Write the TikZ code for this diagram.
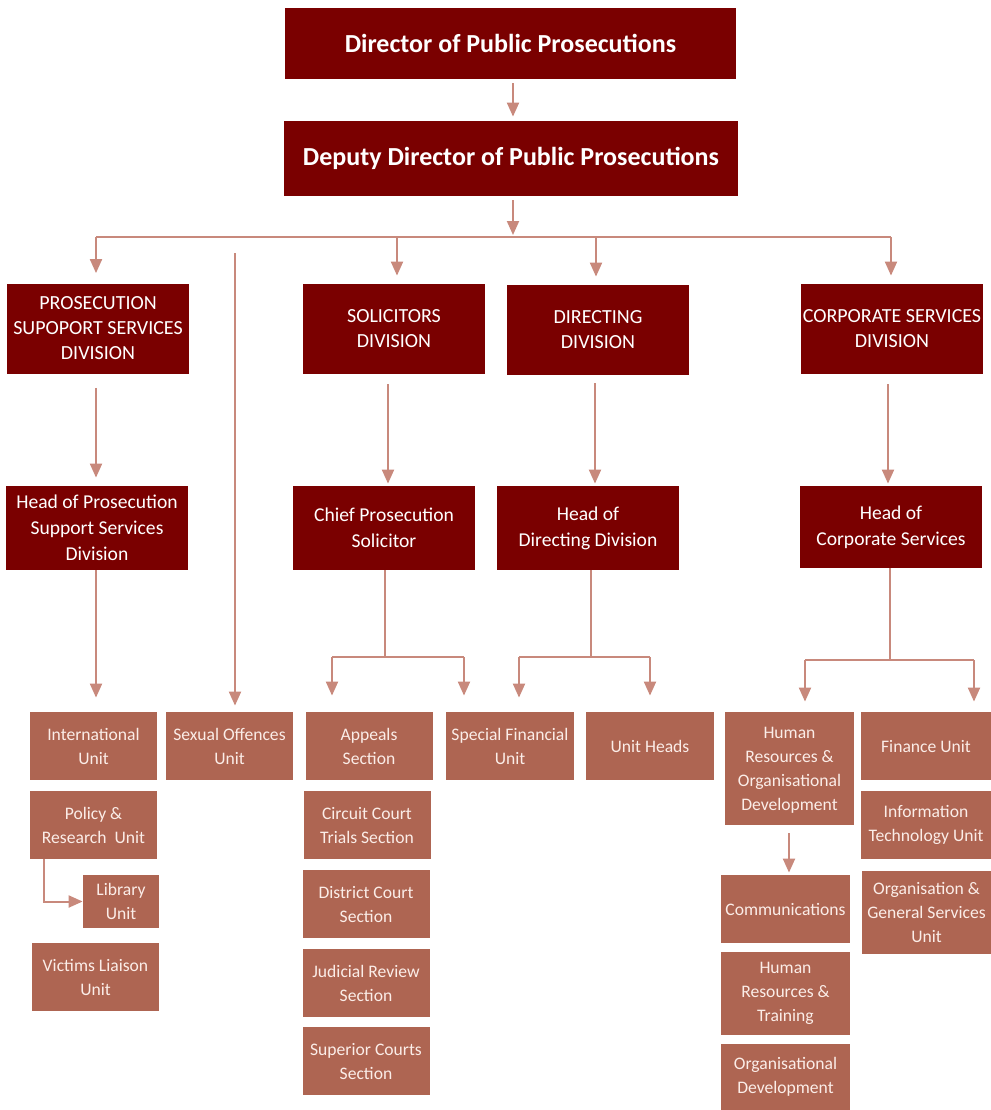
\documentclass[tikz,border=0pt]{standalone}
\usepackage{fontspec}
\setmainfont{Carlito}
\usetikzlibrary{arrows.meta, positioning}

\definecolor{maroonbox}{HTML}{7A0000}
\definecolor{unitbox}{HTML}{AE6552}
\definecolor{linkcol}{HTML}{C8897C}
\definecolor{unittext}{HTML}{FBEDE8}

\tikzset{
  topbox/.style={fill=maroonbox, text=white, inner sep=0pt, align=center,
    font=\fontsize{13}{15}\selectfont\bfseries},
  divbox/.style={fill=maroonbox, text=white, inner sep=0pt, align=center,
    minimum width=91pt, minimum height=45pt, font=\fontsize{10}{12.5}\selectfont},
  headbox/.style={fill=maroonbox, text=white, inner sep=0pt, align=center,
    minimum width=91pt, minimum height=42pt, font=\fontsize{9.8}{13}\selectfont},
  unitnode/.style={fill=unitbox, text=unittext, inner sep=0pt, align=center,
    minimum width=63.5pt, minimum height=34pt, font=\fontsize{8.8}{12}\selectfont},
  link/.style={draw=linkcol, line width=1pt},
  arr/.style={link, -{Triangle[length=7pt,width=6pt]}, shorten >=2pt}
}

\begin{document}
\begin{tikzpicture}[x=0.5pt, y=-0.5pt]
    \useasboundingbox (0,0) rectangle (991,1110);

    % --- Top of the office ---
    \node[topbox, minimum width=225.5pt, minimum height=35.5pt] (dpp) at (510.5,43.5) {Director of Public Prosecutions};
    \node[topbox, minimum width=227pt, minimum height=37.5pt] (ddpp) at (511,158.5) {Deputy Director of Public Prosecutions};

    % --- Divisions ---
    \node[divbox] (pssd) at (98,328.5) {PROSECUTION\\SUPOPORT SERVICES\\DIVISION};
    \node[divbox] (solic) at (394,329) {SOLICITORS\\DIVISION};
    \node[divbox] (direct) at (598,330) {DIRECTING\\DIVISION};
    \node[divbox] (corp) at (892,329) {CORPORATE SERVICES\\DIVISION};

    % --- Heads ---
    \node[headbox] (hpssd) at (97,528) {Head of Prosecution\\Support Services\\Division};
    \node[headbox] (cps) at (384,528) {Chief Prosecution\\Solicitor};
    \node[headbox] (hdir) at (588,528) {Head of\\Directing Division};
    \node[headbox, minimum height=41pt] (hcorp) at (891,527) {Head of\\Corporate Services};

    % --- Units, left ---
    \node[unitnode] (intl) at (93.5,746) {International\\Unit};
    \node[unitnode] (policy) at (93.5,825) {Policy \&\\Research\ \ Unit};
    \node[unitnode, minimum width=38pt, minimum height=26.5pt] (lib) at (121,901.5) {Library\\Unit};
    \node[unitnode] (victims) at (95.5,977) {Victims Liaison\\Unit};
    \node[unitnode] (sexoff) at (229.5,746) {Sexual Offences\\Unit};

    % --- Units, solicitors ---
    \node[unitnode] (appeals) at (369,746) {Appeals\\Section};
    \node[unitnode] (circuit) at (367,825) {Circuit Court\\Trials Section};
    \node[unitnode] (district) at (366,904) {District Court\\Section};
    \node[unitnode] (judrev) at (366,983) {Judicial Review\\Section};
    \node[unitnode] (superior) at (366,1061) {Superior Courts\\Section};

    % --- Units, directing ---
    \node[unitnode, minimum width=64pt] (special) at (510,746) {Special Financial\\Unit};
    \node[unitnode, minimum width=64pt] (unitheads) at (650,746) {Unit Heads};

    % --- Units, corporate ---
    \node[unitnode, minimum width=64.5pt, minimum height=56.5pt, text depth=-3pt] (hrod) at (789.5,768.5) {Human\\Resources \&\\Organisational\\Development};
    \node[unitnode, minimum width=64.5pt] (comms) at (785.5,909) {Communications};
    \node[unitnode, minimum width=64.5pt, minimum height=41.5pt] (hrtrain) at (785.5,993.5) {Human\\Resources \&\\Training};
    \node[unitnode, minimum width=64.5pt, minimum height=33pt] (orgdev) at (785.5,1077) {Organisational\\Development};
    \node[unitnode, minimum width=65pt] (finance) at (926,746) {Finance Unit};
    \node[unitnode, minimum width=65pt] (infotech) at (926,825) {Information\\Technology Unit};
    \node[unitnode, minimum width=64.5pt, minimum height=41.5pt] (orggen) at (926.5,912.5) {Organisation \&\\General Services\\Unit};

    % --- Top connectors ---
    \draw[arr, shorten <=2pt] (dpp.south -| 513,0) -- (ddpp.north -| 513,0);
    \coordinate (bus) at (513,237);
    \coordinate (busL) at (96,237);
    \coordinate (busR) at (891,237);
    \draw[arr, shorten <=2pt, shorten >=1pt] (ddpp.south -| bus) -- (bus);
    \draw[link] (busL) -- (busR);
    \draw[arr, shorten >=5pt] (busL) -- (busL |- pssd.north);
    \draw[arr, shorten >=4pt] (397,237) -- (solic.north -| 397,0);
    \draw[arr, shorten >=4pt] (596,237) -- (direct.north -| 596,0);
    \draw[arr, shorten >=4pt] (busR) -- (busR |- corp.north);

    % --- Division to head ---
    \draw[arr, shorten <=7pt, shorten >=4pt] (pssd.south -| 96,0) -- (hpssd.north -| 96,0);
    \draw[arr, shorten <=5pt, shorten >=1pt] (solic.south -| 388,0) -- (cps.north -| 388,0);
    \draw[arr, shorten <=4pt, shorten >=1pt] (direct.south -| 595,0) -- (hdir.north -| 595,0);
    \draw[arr, shorten <=5pt, shorten >=1pt] (corp.south -| 888,0) -- (hcorp.north -| 888,0);

    % --- Head to units ---
    \draw[arr, shorten >=7pt] (hpssd.south -| 96,0) -- (intl.north -| 96,0);
    \coordinate (sextop) at (235,253);
    \draw[arr, shorten >=3pt] (sextop) -- (sexoff.north -| sextop);

    \draw[link] (cps.south -| 385,0) -- (385,657);
    \draw[link] (332,657) -- (464,657);
    \draw[arr, shorten >=8pt] (332,657) -- (appeals.north -| 332,0);
    \draw[arr, shorten >=8pt] (464,657) -- (special.north -| 464,0);

    \draw[link] (hdir.south -| 591,0) -- (591,657);
    \draw[link] (519,657) -- (650,657);
    \draw[arr, shorten >=7pt] (519,657) -- (special.north -| 519,0);
    \draw[arr, shorten >=8pt] (650,657) -- (unitheads.north -| 650,0);

    \draw[link] (hcorp.south -| 890,0) -- (890,660);
    \draw[link] (805,660) -- (974,660);
    \draw[arr, shorten >=5pt] (805,660) -- (hrod.north -| 805,0);
    \draw[arr, shorten >=5pt] (974,660) -- (finance.north -| 974,0);

    % --- Inside the unit columns ---
    \draw[arr, shorten <=4pt, shorten >=1pt] (hrod.south -| 789,0) -- (comms.north -| 789,0);
    \draw[arr, shorten >=0pt] (policy.south -| 44,0) |- (lib.west);
\end{tikzpicture}
\end{document}
